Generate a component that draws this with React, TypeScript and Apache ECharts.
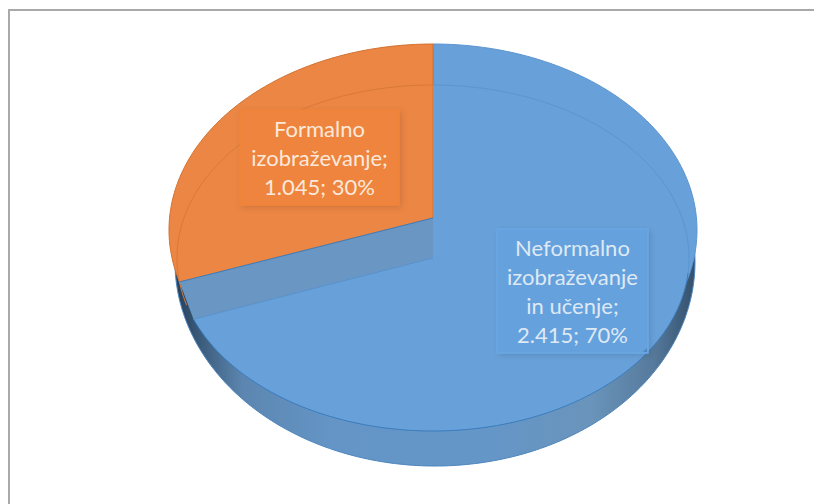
import React, { useEffect, useRef } from "react";
import * as echarts from "echarts";

const categories = ["Neformalno\nizobraževanje\nin učenje", "Formalno\nizobraževanje"];
const values = [2415, 1045];

const total = values.reduce((a, b) => a + b, 0);
const BLUE = "#68a1d9";
const ORANGE = "#ec8644";
const back = { cx: 433, cy: 230, rx: 264, ry: 186 };
const front = { cx: 433, cy: 258, rx: 256, ry: 173 };
const base = { cx: 435, cy: 262, rx: 260, ry: 204 };
const backApex = [433, 218];
const frontApex = [433, 258];
const seamShift = 2.5;
const frontShift = -2;
const boxes = [
  { x: 497, y: 229, w: 151, h: 124 },
  { x: 240, y: 110, w: 159, h: 95 },
];

type E = { cx: number; cy: number; rx: number; ry: number };
const pt = (e: E, deg: number) => {
  const r = (deg * Math.PI) / 180;
  return [e.cx + e.rx * Math.sin(r), e.cy - e.ry * Math.cos(r)];
};
const arc = (e: E, from: number, to: number) => {
  const out: number[][] = [];
  const n = Math.max(2, Math.ceil(Math.abs(to - from)));
  for (let i = 0; i <= n; i++) out.push(pt(e, from + ((to - from) * i) / n));
  return out;
};
const fmt = (v: number) => String(v).replace(/(\d)(\d{3})$/, "$1.$2");

const wallFill = () =>
  new echarts.graphic.LinearGradient(0, 0, 1, 0, [
    { offset: 0, color: "#263f5a" },
    { offset: 0.05, color: "#3c5c7c" },
    { offset: 0.13, color: "#5c86b0" },
    { offset: 0.3, color: "#6495c6" },
    { offset: 0.6, color: "#6496c8" },
    { offset: 0.8, color: "#6a94bb" },
    { offset: 0.92, color: "#567a9c" },
    { offset: 1, color: "#34506c" },
  ]);

const blueSweepOf = (v: number) => (v / total) * 360;

const baseLayer = (params: any, api: any) => {
  const v = api.value(0);
  if (params.dataIndex === 0) {
    const sweep = blueSweepOf(v);
    return {
      type: "group",
      children: [
        {
          type: "polygon",
          shape: { points: arc(base, 0, 360) },
          style: { fill: wallFill(), stroke: "#4c86bf", lineWidth: 1 },
        },
        {
          type: "polygon",
          shape: { points: [backApex, ...arc(back, 0, sweep + seamShift)] },
          style: { fill: BLUE, stroke: "#5c95cf", lineWidth: 1 },
        },
      ],
    };
  }
  const sweep = blueSweepOf(values[0]);
  return {
    type: "polygon",
    shape: { points: [backApex, ...arc(back, sweep + seamShift, 360)] },
    style: { fill: ORANGE, stroke: "#d2722f", lineWidth: 1 },
  };
};

const frontLayer = (params: any, api: any) => {
  const v = api.value(0);
  if (params.dataIndex === 0) {
    const sweep = blueSweepOf(v);
    const frontEnd = sweep + frontShift;
    const seamBack = pt(back, sweep + seamShift);
    const seamFront = pt(front, frontEnd);
    return {
      type: "group",
      children: [
        {
          type: "polygon",
          shape: { points: [backApex, frontApex, seamFront, seamBack] },
          style: { fill: "#6a96c4" },
        },
        {
          type: "polyline",
          shape: { points: [backApex, seamBack] },
          style: { fill: "none", stroke: "#3c7fc0", lineWidth: 1 },
        },
        {
          type: "polygon",
          shape: { points: [frontApex, ...arc(front, 0, frontEnd)] },
          style: { fill: BLUE },
        },
        {
          type: "polyline",
          shape: { points: arc(front, 0, 95) },
          style: { fill: "none", stroke: "#5c95cf", lineWidth: 1 },
        },
        {
          type: "polyline",
          shape: { points: arc(front, 95, frontEnd) },
          style: { fill: "none", stroke: "#3a7cbd", lineWidth: 1 },
        },
        {
          type: "polyline",
          shape: { points: [seamFront, frontApex] },
          style: { fill: "none", stroke: "#5a92cb", lineWidth: 1 },
        },
      ],
    };
  }
  const sweep = blueSweepOf(values[0]);
  return {
    type: "polyline",
    shape: { points: arc(front, sweep + 3, 360) },
    style: { fill: "none", stroke: "#d87a38", lineWidth: 1 },
  };
};

const labelLayer = (params: any, api: any) => {
  const i = params.dataIndex;
  const v = api.value(0);
  const b = boxes[i];
  const isBlue = i === 0;
  const text = `${categories[i]};\n${fmt(v)}; ${Math.round((v / total) * 100)}%`;
  const children: any[] = [
    {
      type: "rect",
      shape: { x: b.x, y: b.y, width: b.w, height: b.h },
      style: {
        fill: isBlue ? "#65a1dd" : "#ee843c",
        stroke: isBlue ? "#6aa6e2" : "#f08238",
        lineWidth: 1.5,
        shadowBlur: 6,
        shadowOffsetX: 2,
        shadowOffsetY: 2,
        shadowColor: "rgba(0,0,0,0.12)",
      },
    },
    {
      type: "text",
      style: {
        text,
        x: b.x + b.w / 2,
        y: b.y + b.h / 2,
        fill: isBlue ? "#dfe9f4" : "#fbe9dc",
        font: "22px Lato, sans-serif",
        align: "center",
        verticalAlign: "middle",
        lineHeight: 29,
      },
    },
  ];
  if (isBlue) {
    const r = b.x + b.w;
    const s = b.y + b.h;
    children.push({
      type: "polygon",
      shape: { points: [[r - 1, s - 5], [r - 1, s - 1], [r - 5, s - 1]] },
      style: { fill: "#4f86bf" },
    });
  }
  return { type: "group", children };
};

export default function App() {
  const ref = useRef<HTMLDivElement>(null);
  useEffect(() => {
    document.body.style.margin = "0";
    const chart = echarts.init(ref.current!, null, { renderer: "svg" });
    const data = categories.map((name, i) => ({ name, value: [values[i]] }));
    chart.setOption({
      animation: false,
      backgroundColor: "#ffffff",
      graphic: [
        { type: "line", shape: { x1: 8, y1: 10, x2: 814, y2: 10 }, style: { stroke: "#a9a9a9", lineWidth: 2 } },
        { type: "line", shape: { x1: 9, y1: 9, x2: 9, y2: 504 }, style: { stroke: "#a9a9a9", lineWidth: 2 } },
      ],
      series: [
        { type: "custom", coordinateSystem: "none", silent: true, z: 1, data, renderItem: baseLayer },
        { type: "custom", coordinateSystem: "none", silent: true, z: 2, data, renderItem: frontLayer },
        { type: "custom", coordinateSystem: "none", silent: true, z: 3, data, renderItem: labelLayer },
      ],
    });
    return () => chart.dispose();
  }, []);
  return <div ref={ref} style={{ width: 814, height: 504 }} />;
}
